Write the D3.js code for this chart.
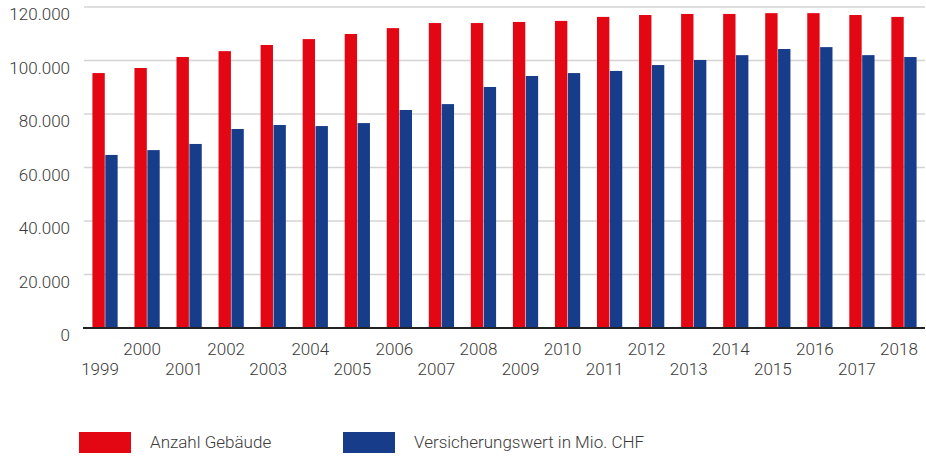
<!DOCTYPE html>
<html>
<head>
<meta charset="utf-8">
<script src="https://cdn.jsdelivr.net/npm/d3@7"></script>
<style>
  body { margin: 0; background: #fff; }
  svg text { font-family: "Roboto", "Liberation Sans", sans-serif; font-weight: 300; fill: #3a3a3a; }
</style>
</head>
<body>
<svg width="926" height="457"></svg>
<script>
// years on the x axis
const years = ["1999","2000","2001","2002","2003","2004","2005","2006","2007","2008",
               "2009","2010","2011","2012","2013","2014","2015","2016","2017","2018"];
// Anzahl Gebäude
const gebaeude = [95300, 97200, 101300, 103500, 105800, 108000, 109900, 112100, 114000, 114000,
                  114400, 114800, 116300, 117000, 117400, 117400, 117700, 117700, 117000, 116300];
// Versicherungswert in Mio. CHF
const versicherung = [64700, 66500, 68800, 74400, 75900, 75500, 76600, 81500, 83700, 90100,
                      94200, 95300, 96100, 98300, 100200, 102000, 104300, 105000, 102000, 101300];
const yTicks = [0, 20000, 40000, 60000, 80000, 100000, 120000];
const seriesNames = ["Anzahl Gebäude", "Versicherungswert in Mio. CHF"];
const colors = ["#e30613", "#163c8a"];

let svg = d3.select("svg");
let plotLeft = 84, plotRight = 925, plotTop = 7, plotBottom = 328;

let x = d3.scaleBand().domain(years).range([plotLeft, plotRight]).paddingInner(0.4).paddingOuter(0.2);
let xs = d3.scaleBand().domain([0, 1]).range([0, x.bandwidth()]).paddingInner(0.04);
let y = d3.scaleLinear().domain([0, 120000]).range([plotBottom, plotTop]);

let fmt = d => d3.format(",")(d).replace(/,/g, ".");

// grid lines
svg.append("g").selectAll("line").data(yTicks.filter(d => d > 0)).join("line")
  .attr("x1", plotLeft).attr("x2", plotRight)
  .attr("y1", d => y(d)).attr("y2", d => y(d))
  .attr("stroke", "#d4d4d4").attr("stroke-width", 1.5);

// y labels
svg.append("g").selectAll("text").data(yTicks).join("text")
  .attr("x", 70).attr("y", d => y(d) + 13)
  .attr("text-anchor", "end")
  .style("font-size", "17px")
  .text(d => fmt(d));

// bars
let groups = svg.append("g").selectAll("g").data(years).join("g")
  .attr("transform", d => `translate(${x(d)},0)`);
groups.append("rect")
  .attr("x", xs(0)).attr("width", xs.bandwidth())
  .attr("y", (d, i) => y(gebaeude[i])).attr("height", (d, i) => plotBottom - y(gebaeude[i]))
  .attr("fill", colors[0]);
groups.append("rect")
  .attr("x", xs(1)).attr("width", xs.bandwidth())
  .attr("y", (d, i) => y(versicherung[i])).attr("height", (d, i) => plotBottom - y(versicherung[i]))
  .attr("fill", colors[1]);

// base line
svg.append("line")
  .attr("x1", plotLeft - 1).attr("x2", plotRight)
  .attr("y1", plotBottom).attr("y2", plotBottom)
  .attr("stroke", "#222").attr("stroke-width", 2);

// x labels, alternating rows
svg.append("g").selectAll("text").data(years).join("text")
  .attr("x", d => x(d) + x.bandwidth() / 2 - 5)
  .attr("y", (d, i) => i % 2 == 1 ? 355 : 375)
  .attr("text-anchor", "middle")
  .style("font-size", "17px")
  .text(d => d);

// legend
let legendX = [79, 343];
let leg = svg.append("g").selectAll("g").data(seriesNames).join("g")
  .attr("transform", (d, i) => `translate(${legendX[i]},432)`);
leg.append("rect").attr("width", 52).attr("height", 21).attr("fill", (d, i) => colors[i]);
leg.append("text").attr("x", 71).attr("y", 16)
  .style("font-size", "17px")
  .text(d => d);
</script>
</body>
</html>
